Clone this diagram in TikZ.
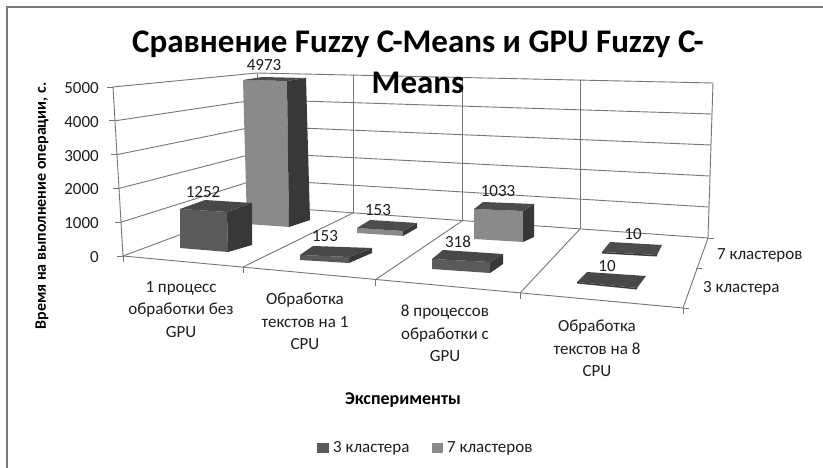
\documentclass[tikz,border=0pt]{standalone}
\usepackage{fontspec}
\setmainfont{Carlito}
\definecolor{gridc}{HTML}{767676}
\definecolor{framec}{HTML}{7A7A7A}
\definecolor{txtc}{HTML}{1E1E1E}
\definecolor{sAfront}{HTML}{5A5A5A}
\definecolor{sAtop}{HTML}{484848}
\definecolor{sAside}{HTML}{383838}
\definecolor{sBfront}{HTML}{8A8A8A}
\definecolor{sBtop}{HTML}{4C4C4C}
\definecolor{sBside}{HTML}{383838}
\begin{document}
\begin{tikzpicture}[x=1pt,y=-1pt,
  gridline/.style={draw=gridc, line width=0.9pt},
  frameline/.style={draw=framec, line width=1.6pt},
  lbl/.style={font=\fontsize{17}{22.5}\selectfont, text=txtc, inner sep=0pt},
  catlbl/.style={lbl, align=center, anchor=north},
  ytitle/.style={font=\fontsize{16}{19}\selectfont\bfseries, text=black, inner sep=0pt},
  xtitle/.style={font=\fontsize{18}{21}\selectfont\bfseries, text=black, inner sep=0pt},
  faceAf/.style={fill=sAfront}, faceAt/.style={fill=sAtop}, faceAs/.style={fill=sAside},
  faceBf/.style={fill=sBfront}, faceBt/.style={fill=sBtop}, faceBs/.style={fill=sBside}]
\useasboundingbox (0,0) rectangle (823,468);
\fill[white] (0,0) rectangle (823,468);
\draw[frameline] (7,470) -- (7,7) -- (826,7);

% ---- walls: gridlines (left wall + back wall)
\foreach \k in {0,...,5}{
  \draw[gridline] ({123-2*\k},{256-33.8*\k}) -- (257,{206-26.6*\k}) -- ({708+\k},{238-31*\k});
  \draw[gridline] ({117-2*\k},{256-33.8*\k}) -- ({123-2*\k},{256-33.8*\k});
}
% vertical edges
\draw[gridline] (123,256) -- (113,87);
\draw[gridline] (257,206) -- (257,73);
\draw[gridline] (353,213) -- (353,75);
\draw[gridline] (462,221) -- (462,78);
\draw[gridline] (580,229) -- (580,80);
\draw[gridline] (708,238) -- (713,83);
% floor
\draw[gridline] (123,256) -- (683,308);
\draw[gridline] (243,267) -- (353,213);
\draw[gridline] (375,280) -- (462,221);
\draw[gridline] (520,293) -- (580,229);
\draw[gridline] (683,308) -- (708,238);
% ticks on category axis
\foreach \tx/\ty in {123/256,243/267,375/280,520/293,683/308}
  \draw[gridline] (\tx,\ty) -- (\tx,\ty+6);
% ticks on depth axis
\draw[gridline] (683,308) -- (689,308);
\draw[gridline] (696,268) -- (702,268);
\draw[gridline] (708,238) -- (714,238);

% ---- back row bars (7 кластеров)
% 4973
\fill[faceBf] (243,80) -- (287,81) -- (289,227) -- (247,224) -- cycle;
\fill[faceBs] (287,81) -- (306,78) -- (310,220) -- (289,227) -- cycle;
\fill[faceBt] (243,80) -- (262,77) -- (306,78) -- (287,81) -- cycle;
% 153
\fill[faceBf] (357,228) -- (403,231) -- (403,236) -- (357,233) -- cycle;
\fill[faceBs] (403,231) -- (417,223) -- (417,228) -- (403,236) -- cycle;
\fill[faceBt] (357,228) -- (370,220) -- (417,223) -- (403,231) -- cycle;
% 1033
\fill[faceBf] (474,209) -- (523,211) -- (523,242) -- (474,239) -- cycle;
\fill[faceBs] (523,211) -- (534,204) -- (534,237) -- (523,242) -- cycle;
\fill[faceBt] (474,209) -- (483,202) -- (534,204) -- (523,211) -- cycle;
% 10
\fill[faceBs] (602,252) -- (657,255) -- (657,256.5) -- (602,253.5) -- cycle;
\fill[faceBt] (602,252) -- (610,242) -- (662,245) -- (657,255) -- cycle;

% ---- front row bars (3 кластера)
% 1252
\fill[faceAf] (180,209) -- (227,212) -- (228,252) -- (180,248) -- cycle;
\fill[faceAs] (227,212) -- (252,203) -- (252,245) -- (228,252) -- cycle;
\fill[faceAt] (180,209) -- (205,200) -- (252,203) -- (227,212) -- cycle;
% 153
\fill[faceAf] (300,255) -- (349,257) -- (349,263) -- (300,260) -- cycle;
\fill[faceAs] (349,257) -- (372,248) -- (372,253) -- (349,263) -- cycle;
\fill[faceAt] (300,255) -- (313,246) -- (372,248) -- (349,257) -- cycle;
% 318
\fill[faceAf] (432,259) -- (490,262) -- (490,273) -- (432,269) -- cycle;
\fill[faceAs] (490,262) -- (503,254) -- (503,264) -- (490,273) -- cycle;
\fill[faceAt] (432,259) -- (443,250) -- (503,254) -- (490,262) -- cycle;
% 10
\fill[faceAs] (577,282) -- (637,288) -- (637,289.5) -- (577,283.5) -- cycle;
\fill[faceAt] (577,282) -- (587,272) -- (646,276) -- (637,288) -- cycle;

% ---- value labels
\node[lbl] (v1) at (203,192) {1252};
\node[lbl] (v2) at (264,65) {4973};
\node[lbl] (v3) at (325,236) {153};
\node[lbl] (v4) at (378,210) {153};
\node[lbl] (v5) at (458,242) {318};
\node[lbl] (v6) at (498,191) {1033};
\node[lbl] (v7) at (633,234) {10};
\node[lbl] (v8) at (607,266) {10};

% ---- value axis labels
\foreach \k/\t in {0/0,1/1000,2/2000,3/3000,4/4000,5/5000}
  \node[lbl, anchor=east] (ya\k) at (99,{257-33.8*\k}) {\t};

% ---- category labels
\node[catlbl] (c1) at (181,281) {1 процесс\\обработки без\\GPU};
\node[catlbl] (c2) at (305,293) {Обработка\\текстов на 1\\CPU};
\node[catlbl] (c3) at (445,305) {8 процессов\\обработки с\\GPU};
\node[catlbl] (c4) at (597,320) {Обработка\\текстов на 8\\CPU};

% ---- depth labels
\node[lbl, anchor=west] (d7) at (717,255) {7 кластеров};
\node[lbl, anchor=west] (d3) at (703,288) {3 кластера};

% ---- axis titles
\node[ytitle, rotate=90] (yt) at (42,206) {Время на выполнение операции, с.};
\node[xtitle] (xt) at (403,400) {Эксперименты};

% ---- legend
\fill[sAfront] (317,443) rectangle (329,453);
\node[lbl, anchor=west] (l3) at (333,448) {3 кластера};
\fill[sBfront] (432,443) rectangle (443,453);
\node[lbl, anchor=west] (l7) at (447,448) {7 кластеров};

% ---- title
\node[font=\fontsize{33}{41}\selectfont\bfseries, text=black, align=center, anchor=north, inner sep=0pt] (title) at (418,31)
  {Сравнение Fuzzy C-Means и GPU Fuzzy C-\\Means};
\end{tikzpicture}
\end{document}
